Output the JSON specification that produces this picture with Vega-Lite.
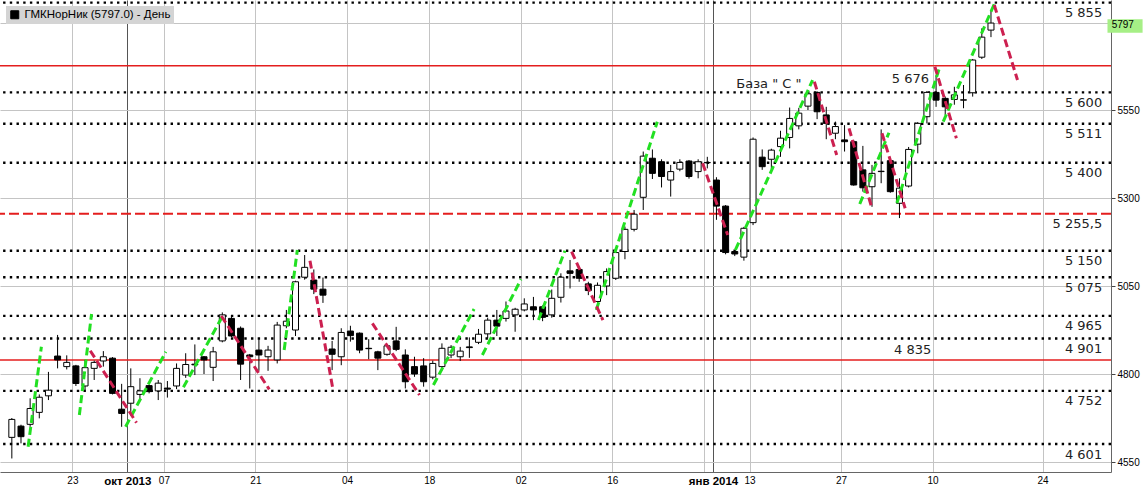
{
  "$schema": "https://vega.github.io/schema/vega-lite/v6.json",
  "width": 1111,
  "height": 472,
  "autosize": {"type": "none"},
  "padding": {"left": 0, "top": 0, "right": 37, "bottom": 19},
  "background": "white",
  "config": {"view": {"stroke": null}},
  "datasets": {
    "candles": [
      {"d":0,"o":4620,"h":4675,"l":4560,"c":4671},
      {"d":1,"o":4652,"h":4656,"l":4603,"c":4622},
      {"d":2,"o":4657,"h":4731,"l":4650,"c":4702},
      {"d":3,"o":4691,"h":4742,"l":4674,"c":4734},
      {"d":4,"o":4738,"h":4806,"l":4726,"c":4754},
      {"d":5,"o":4851,"h":4911,"l":4816,"c":4840},
      {"d":6,"o":4821,"h":4853,"l":4813,"c":4833},
      {"d":7,"o":4823,"h":4826,"l":4766,"c":4773},
      {"d":8,"o":4766,"h":4840,"l":4754,"c":4818},
      {"d":9,"o":4816,"h":4838,"l":4783,"c":4833},
      {"d":10,"o":4837,"h":4865,"l":4821,"c":4849},
      {"d":11,"o":4845,"h":4848,"l":4742,"c":4745},
      {"d":12,"o":4700,"h":4772,"l":4650,"c":4688},
      {"d":13,"o":4717,"h":4816,"l":4688,"c":4764},
      {"d":14,"o":4742,"h":4788,"l":4726,"c":4752},
      {"d":15,"o":4767,"h":4770,"l":4745,"c":4750},
      {"d":16,"o":4752,"h":4783,"l":4726,"c":4774},
      {"d":17,"o":4760,"h":4780,"l":4733,"c":4757},
      {"d":18,"o":4766,"h":4830,"l":4757,"c":4816},
      {"d":19,"o":4797,"h":4859,"l":4789,"c":4827},
      {"d":20,"o":4828,"h":4884,"l":4797,"c":4826},
      {"d":21,"o":4849,"h":4851,"l":4800,"c":4840},
      {"d":22,"o":4819,"h":4877,"l":4780,"c":4863},
      {"d":23,"o":4894,"h":4975,"l":4890,"c":4968},
      {"d":24,"o":4958,"h":4963,"l":4905,"c":4908},
      {"d":25,"o":4930,"h":4935,"l":4783,"c":4828},
      {"d":26,"o":4854,"h":4857,"l":4759,"c":4849},
      {"d":27,"o":4868,"h":4899,"l":4809,"c":4854},
      {"d":28,"o":4849,"h":4880,"l":4809,"c":4868},
      {"d":29,"o":4840,"h":4948,"l":4830,"c":4939},
      {"d":30,"o":4937,"h":4982,"l":4930,"c":4950},
      {"d":31,"o":4925,"h":5065,"l":4908,"c":5062},
      {"d":32,"o":5075,"h":5138,"l":5068,"c":5103},
      {"d":33,"o":5067,"h":5097,"l":5027,"c":5041},
      {"d":34,"o":5041,"h":5074,"l":5002,"c":5024},
      {"d":35,"o":4871,"h":4894,"l":4811,"c":4856},
      {"d":36,"o":4849,"h":4930,"l":4825,"c":4918},
      {"d":37,"o":4922,"h":4937,"l":4892,"c":4909},
      {"d":38,"o":4916,"h":4918,"l":4859,"c":4868},
      {"d":39,"o":4873,"h":4899,"l":4842,"c":4872},
      {"d":40,"o":4863,"h":4866,"l":4811,"c":4845},
      {"d":41,"o":4856,"h":4885,"l":4852,"c":4880},
      {"d":42,"o":4894,"h":4934,"l":4865,"c":4870},
      {"d":43,"o":4854,"h":4870,"l":4759,"c":4778},
      {"d":44,"o":4821,"h":4849,"l":4792,"c":4800},
      {"d":45,"o":4823,"h":4845,"l":4764,"c":4778},
      {"d":46,"o":4791,"h":4838,"l":4785,"c":4830},
      {"d":47,"o":4821,"h":4887,"l":4810,"c":4873},
      {"d":48,"o":4854,"h":4882,"l":4845,"c":4876},
      {"d":49,"o":4849,"h":4877,"l":4837,"c":4865},
      {"d":50,"o":4877,"h":4904,"l":4846,"c":4875},
      {"d":51,"o":4890,"h":4928,"l":4885,"c":4913},
      {"d":52,"o":4914,"h":4960,"l":4901,"c":4953},
      {"d":53,"o":4953,"h":4982,"l":4908,"c":4936},
      {"d":54,"o":4958,"h":5006,"l":4949,"c":4979},
      {"d":55,"o":4968,"h":4988,"l":4920,"c":4984},
      {"d":56,"o":4982,"h":5015,"l":4978,"c":4999},
      {"d":57,"o":4991,"h":5019,"l":4953,"c":4982},
      {"d":58,"o":4991,"h":4995,"l":4950,"c":4961},
      {"d":59,"o":4968,"h":5040,"l":4960,"c":5015},
      {"d":60,"o":5018,"h":5086,"l":5003,"c":5075},
      {"d":61,"o":5093,"h":5124,"l":5043,"c":5086},
      {"d":62,"o":5097,"h":5100,"l":5062,"c":5072},
      {"d":63,"o":5056,"h":5062,"l":5024,"c":5037},
      {"d":64,"o":5006,"h":5060,"l":5001,"c":5052},
      {"d":65,"o":5050,"h":5100,"l":5024,"c":5091},
      {"d":66,"o":5072,"h":5152,"l":5067,"c":5145},
      {"d":67,"o":5148,"h":5219,"l":5126,"c":5211},
      {"d":68,"o":5211,"h":5266,"l":5205,"c":5254},
      {"d":69,"o":5302,"h":5432,"l":5266,"c":5419},
      {"d":70,"o":5413,"h":5438,"l":5354,"c":5370},
      {"d":71,"o":5403,"h":5410,"l":5330,"c":5361},
      {"d":72,"o":5351,"h":5394,"l":5304,"c":5375},
      {"d":73,"o":5382,"h":5410,"l":5376,"c":5401},
      {"d":74,"o":5405,"h":5408,"l":5355,"c":5361},
      {"d":75,"o":5375,"h":5410,"l":5356,"c":5403},
      {"d":76,"o":5401,"h":5417,"l":5384,"c":5400},
      {"d":77,"o":5351,"h":5359,"l":5238,"c":5277},
      {"d":78,"o":5277,"h":5280,"l":5140,"c":5145},
      {"d":79,"o":5148,"h":5150,"l":5135,"c":5141},
      {"d":80,"o":5132,"h":5218,"l":5122,"c":5214},
      {"d":81,"o":5230,"h":5472,"l":5223,"c":5467},
      {"d":82,"o":5416,"h":5438,"l":5380,"c":5389},
      {"d":83,"o":5410,"h":5440,"l":5382,"c":5436},
      {"d":84,"o":5446,"h":5491,"l":5417,"c":5470},
      {"d":85,"o":5472,"h":5557,"l":5441,"c":5526},
      {"d":86,"o":5505,"h":5556,"l":5495,"c":5541},
      {"d":87,"o":5561,"h":5602,"l":5550,"c":5596},
      {"d":88,"o":5600,"h":5603,"l":5524,"c":5545},
      {"d":89,"o":5536,"h":5559,"l":5467,"c":5512},
      {"d":90,"o":5484,"h":5517,"l":5467,"c":5503},
      {"d":91,"o":5465,"h":5507,"l":5432,"c":5460},
      {"d":92,"o":5460,"h":5465,"l":5335,"c":5337},
      {"d":93,"o":5380,"h":5448,"l":5318,"c":5329},
      {"d":94,"o":5332,"h":5394,"l":5275,"c":5370},
      {"d":95,"o":5375,"h":5495,"l":5342,"c":5376},
      {"d":96,"o":5406,"h":5410,"l":5315,"c":5318},
      {"d":97,"o":5285,"h":5356,"l":5243,"c":5328},
      {"d":98,"o":5334,"h":5445,"l":5330,"c":5438},
      {"d":99,"o":5453,"h":5516,"l":5427,"c":5512},
      {"d":100,"o":5531,"h":5604,"l":5512,"c":5600},
      {"d":101,"o":5600,"h":5649,"l":5559,"c":5578},
      {"d":102,"o":5583,"h":5588,"l":5536,"c":5559},
      {"d":103,"o":5580,"h":5616,"l":5565,"c":5593},
      {"d":104,"o":5578,"h":5621,"l":5555,"c":5579},
      {"d":105,"o":5599,"h":5695,"l":5588,"c":5692},
      {"d":106,"o":5700,"h":5782,"l":5695,"c":5757},
      {"d":107,"o":5777,"h":5834,"l":5757,"c":5797}
    ],
    "dots": [{"v":5855},{"v":5600},{"v":5511},{"v":5400},{"v":5150},{"v":5075},{"v":4965},{"v":4901},{"v":4752},{"v":4601}],
    "redsolid": [{"v":5676},{"v":4840}],
    "reddash": [{"v":5255.5}],
    "levels": [
      {"v":5855,"t":"5 855"},{"v":5600,"t":"5 600"},{"v":5511,"t":"5 511"},{"v":5400,"t":"5 400"},
      {"v":5255.5,"t":"5 255,5"},{"v":5150,"t":"5 150"},{"v":5075,"t":"5 075"},{"v":4965,"t":"4 965"},
      {"v":4901,"t":"4 901"},{"v":4752,"t":"4 752"},{"v":4601,"t":"4 601"}
    ],
    "notes": [
      {"d":79.17,"v":5612.5,"t":"База \" C \""},
      {"d":96.17,"v":5625.8,"t":"5 676"},
      {"d":96.4,"v":4857,"t":"4 835"}
    ],
    "up": [
      {"d1":1.78,"v1":4593.4,"d2":3.23,"v2":4877.5},
      {"d1":7.38,"v1":4683.5,"d2":8.71,"v2":4970.4},
      {"d1":12.43,"v1":4650.3,"d2":16.83,"v2":4863.3},
      {"d1":18.75,"v1":4762.2,"d2":23.15,"v2":4970.4},
      {"d1":29.76,"v1":4868.2,"d2":31.2,"v2":5152.3},
      {"d1":46.07,"v1":4768.7,"d2":50.51,"v2":4984.6},
      {"d1":51.42,"v1":4854,"d2":55.64,"v2":5069},
      {"d1":57.55,"v1":4953.4,"d2":60.44,"v2":5150.3},
      {"d1":63.87,"v1":4982.2,"d2":70.54,"v2":5516.8},
      {"d1":79.07,"v1":5152.3,"d2":87.51,"v2":5635.2},
      {"d1":92.66,"v1":5282.9,"d2":95.85,"v2":5485.5},
      {"d1":96.72,"v1":5285.8,"d2":101.41,"v2":5673},
      {"d1":101.78,"v1":5516.8,"d2":107.36,"v2":5851.1}
    ],
    "down": [
      {"d1":8.57,"v1":4866.2,"d2":13.62,"v2":4661.6},
      {"d1":22.89,"v1":4964.8,"d2":28.13,"v2":4756.5},
      {"d1":32.58,"v1":5121.9,"d2":35.07,"v2":4759.3},
      {"d1":39.4,"v1":4944,"d2":44.55,"v2":4740.3},
      {"d1":61.17,"v1":5147.4,"d2":64.59,"v2":4953.4},
      {"d1":75.49,"v1":5398.6,"d2":78.23,"v2":5194.9},
      {"d1":87.7,"v1":5630.4,"d2":90.14,"v2":5422.2},
      {"d1":91.49,"v1":5498,"d2":93.94,"v2":5275.3},
      {"d1":95.09,"v1":5483.8,"d2":97.62,"v2":5270.7},
      {"d1":100.87,"v1":5673,"d2":103.22,"v2":5469.6},
      {"d1":107.36,"v1":5848.3,"d2":109.9,"v2":5635.2}
    ],
    "price": [{"v":5797,"t":"5797"}]
  },
  "layer": [
    {
      "data": {"name": "dots"},
      "mark": {"type": "rule", "strokeDash": [2.4, 4.3], "strokeWidth": 2.4, "color": "#000000"},
      "encoding": {
        "y": {
          "field": "v", "type": "quantitative",
          "scale": {"domain": [4521.6, 5862.5], "nice": false, "zero": false},
          "axis": {
            "orient": "right", "title": null,
            "values": [4550, 4800, 5050, 5300, 5550, 5797],
            "format": "d",
            "labelExpr": "datum.value == 5797 ? '' : datum.label",
            "labelFont": "Liberation Sans", "labelFontSize": 10, "labelColor": "#000000",
            "tickSize": 4, "tickColor": "#444444", "domainColor": "#666666",
            "grid": true, "gridColor": "#c4c4c4", "gridWidth": 1, "labelPadding": 2
          }
        }
      }
    },
    {
      "data": {"name": "redsolid"},
      "mark": {"type": "rule", "strokeWidth": 1.5, "color": "#e41e1e"},
      "encoding": {"y": {"field": "v", "type": "quantitative"}}
    },
    {
      "data": {"name": "reddash"},
      "mark": {"type": "rule", "strokeWidth": 2, "strokeDash": [10, 4], "color": "#e41e1e"},
      "encoding": {"y": {"field": "v", "type": "quantitative"}}
    },
    {
      "data": {"name": "candles"},
      "mark": {"type": "rule", "strokeWidth": 1},
      "encoding": {
        "x": {
          "field": "d", "type": "quantitative",
          "scale": {"domain": [-0.747, 119.57], "nice": false, "zero": false},
          "axis": {
            "orient": "bottom", "title": null,
            "values": [6.62, 12.62, 16.62, 26.62, 36.62, 45.62, 55.62, 65.62, 75.62, 76.62, 80.62, 90.62, 100.62, 112.64],
            "labelExpr": "datum.value < 7 ? '23' : datum.value < 13 ? 'окт 2013' : datum.value < 17 ? '07' : datum.value < 27 ? '21' : datum.value < 37 ? '04' : datum.value < 46 ? '18' : datum.value < 56 ? '02' : datum.value < 66 ? '16' : datum.value < 76 ? '' : datum.value < 77 ? 'янв 2014' : datum.value < 81 ? '13' : datum.value < 91 ? '27' : datum.value < 101 ? '10' : '24'",
            "labelFont": "Liberation Sans",
            "labelFontSize": {"condition": {"test": "datum.value == 12.62 || datum.value == 76.62", "value": 11.5}, "value": 10},
            "labelFontWeight": {"condition": {"test": "datum.value == 12.62 || datum.value == 76.62", "value": "bold"}, "value": "normal"},
            "labelColor": "#000000",
            "ticks": false, "domainColor": "#666666",
            "grid": true,
            "gridColor": {"condition": {"test": "datum.value == 12.62 || datum.value == 76.62", "value": "#555555"}, "value": "#c4c4c4"},
            "labelPadding": 3, "labelOverlap": false, "labelBound": false, "labelFlush": false
          }
        },
        "y": {"field": "l", "type": "quantitative"},
        "y2": {"field": "h"},
        "color": {
          "datum": "ГМКНорНик (5797.0) - День", "type": "nominal",
          "scale": {"range": ["#000000"]},
          "legend": {
            "orient": "top-left", "offset": 6, "title": null, "padding": 3,
            "fillColor": "#d4d4d4", "symbolType": "square", "symbolSize": 64,
            "symbolFillColor": "#000000", "symbolStrokeColor": "#000000", "symbolStrokeWidth": 1,
            "labelFont": "Liberation Sans", "labelFontSize": 11.5, "labelColor": "#000000",
            "labelLimit": 300, "labelOffset": 4
          }
        }
      }
    },
    {
      "data": {"name": "candles"},
      "mark": {"type": "bar", "orient": "vertical", "size": 6, "stroke": "#000000", "strokeWidth": 1},
      "encoding": {
        "x": {"field": "d", "type": "quantitative"},
        "y": {"field": "o", "type": "quantitative"},
        "y2": {"field": "c"},
        "fill": {"condition": {"test": "datum.c >= datum.o", "value": "#ffffff"}, "value": "#000000"}
      }
    },
    {
      "data": {"name": "up"},
      "mark": {"type": "rule", "color": "#22e022", "strokeWidth": 3, "strokeDash": [8, 4]},
      "encoding": {
        "x": {"field": "d1", "type": "quantitative"},
        "y": {"field": "v1", "type": "quantitative"},
        "x2": {"field": "d2"},
        "y2": {"field": "v2"}
      }
    },
    {
      "data": {"name": "down"},
      "mark": {"type": "rule", "color": "#cc2050", "strokeWidth": 3, "strokeDash": [8, 4]},
      "encoding": {
        "x": {"field": "d1", "type": "quantitative"},
        "y": {"field": "v1", "type": "quantitative"},
        "x2": {"field": "d2"},
        "y2": {"field": "v2"}
      }
    },
    {
      "data": {"name": "levels"},
      "mark": {"type": "text", "align": "right", "baseline": "alphabetic", "dy": 14.5, "font": "DejaVu Sans", "fontSize": 13, "color": "#222222"},
      "encoding": {
        "x": {"datum": 119.15, "type": "quantitative"},
        "y": {"field": "v", "type": "quantitative"},
        "text": {"field": "t"}
      }
    },
    {
      "data": {"name": "notes"},
      "mark": {"type": "text", "align": "left", "baseline": "alphabetic", "font": "DejaVu Sans", "fontSize": 13, "color": "#222222"},
      "encoding": {
        "x": {"field": "d", "type": "quantitative"},
        "y": {"field": "v", "type": "quantitative"},
        "text": {"field": "t"}
      }
    },
    {
      "data": {"name": "price"},
      "mark": {"type": "point", "shape": "M-1.35,-0.29H1.35V0.74H-1.35Z", "size": 676, "filled": true, "color": "#a6ef86", "opacity": 1, "clip": false},
      "encoding": {
        "x": {"datum": 121.65, "type": "quantitative"},
        "y": {"field": "v", "type": "quantitative"}
      }
    },
    {
      "data": {"name": "price"},
      "mark": {"type": "text", "align": "left", "baseline": "middle", "dy": 1.5, "font": "Liberation Sans", "fontSize": 10, "color": "#000000"},
      "encoding": {
        "x": {"datum": 120.19, "type": "quantitative"},
        "y": {"field": "v", "type": "quantitative"},
        "text": {"field": "t"}
      }
    }
  ]
}
